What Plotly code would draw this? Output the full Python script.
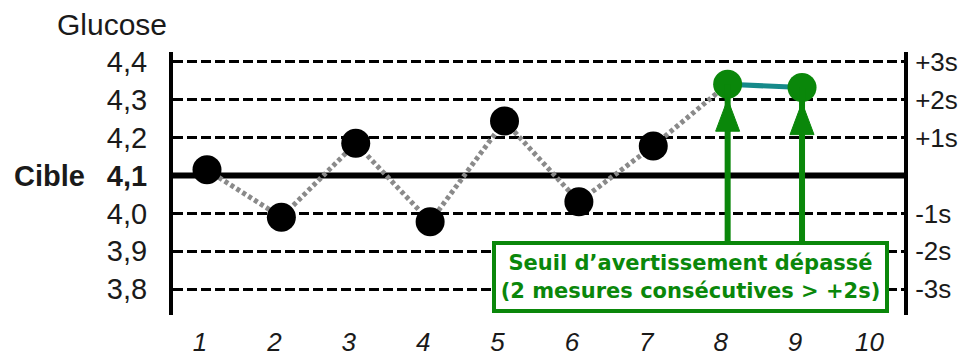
import plotly.graph_objects as go

# ---- data ----
runs = [1, 2, 3, 4, 5, 6, 7, 8, 9]
glucose = [4.115, 3.990, 4.185, 3.978, 4.244, 4.031, 4.178, 4.341, 4.332]
alert_runs = [8, 9]

x_ticks = [1, 2, 3, 4, 5, 6, 7, 8, 9, 10]
x_tick_labels = ["1", "2", "3", "4", "5", "6", "7", "8", "9", "10"]

target = 4.1
y_levels = [4.4, 4.3, 4.2, 4.1, 4.0, 3.9, 3.8]
y_level_labels = ["4,4", "4,3", "4,2", "<b>4,1</b>", "4,0", "3,9", "3,8"]
sd_levels = [4.4, 4.3, 4.2, 4.0, 3.9, 3.8]
sd_labels = ["+3s", "+2s", "+1s", "-1s", "-2s", "-3s"]

box_text = "Seuil d\u2019avertissement dépassé<br>(2 mesures consécutives > +2s)"

# ---- styling ----
GREEN = "#0a870a"
FONT = "Liberation Sans, Arial, sans-serif"
TXT = "#1a1a1a"
Y_RANGE = [3.732, 4.426]
X_RANGE = [0.543, 10.371]

n_ok = len(runs) - len(alert_runs)
alert_vals = [glucose[runs.index(r)] for r in alert_runs]

fig = go.Figure()

# grey dotted connecting line (up to first alert point)
fig.add_trace(go.Scatter(
    x=runs[:n_ok + 1], y=glucose[:n_ok + 1], mode="lines",
    line=dict(color="#8a8a8a", width=5, dash="4px,3px"),
    hoverinfo="skip", showlegend=False))
# teal link between alert points
fig.add_trace(go.Scatter(
    x=alert_runs, y=alert_vals, mode="lines",
    line=dict(color="#168a8a", width=5),
    hoverinfo="skip", showlegend=False))
# black points
fig.add_trace(go.Scatter(
    x=runs[:n_ok], y=glucose[:n_ok], mode="markers",
    marker=dict(color="black", size=29, line=dict(width=0)),
    showlegend=False))
# green alert points
fig.add_trace(go.Scatter(
    x=alert_runs, y=alert_vals, mode="markers",
    marker=dict(color=GREEN, size=29, line=dict(width=0)),
    showlegend=False))
# dummy trace for right axis
fig.add_trace(go.Scatter(x=[None], y=[None], yaxis="y2", showlegend=False))

shapes = [
    dict(type="line", xref="paper", x0=0, x1=1, yref="y", y0=target, y1=target,
         line=dict(color="black", width=6), layer="below"),
]
box_y = 3.833
shaft_bottom = 3.905
for r, v in zip(alert_runs, alert_vals):
    shapes.append(dict(type="line", xref="x", yref="y", x0=r, x1=r,
                       y0=shaft_bottom, y1=v,
                       line=dict(color=GREEN, width=6), layer="above"))
    shapes.append(dict(type="path", xref="x", yref="y",
                       xsizemode="pixel", ysizemode="pixel",
                       xanchor=r, yanchor=v,
                       path="M0,-15 L-12,-47 L12,-47 Z",
                       fillcolor=GREEN, line=dict(color=GREEN, width=1),
                       layer="above"))

annotations = [
    dict(text="Glucose", xref="paper", yref="paper", x=-0.161, y=1.104,
         xanchor="left", yanchor="middle", showarrow=False,
         font=dict(family=FONT, size=30, color=TXT)),
    dict(text="<b>Cible</b>", xref="paper", yref="y", x=-0.117, y=target,
         xanchor="right", yanchor="middle", showarrow=False,
         font=dict(family=FONT, size=29, color=TXT)),
    dict(text="<b>" + box_text + "</b>", xref="x", yref="y",
         x=(alert_runs[0] + alert_runs[1]) / 2 - 1, y=box_y,
         xanchor="center", yanchor="middle", showarrow=False,
         width=385, height=60, borderpad=2, borderwidth=4,
         bordercolor=GREEN, bgcolor="white", align="center",
         font=dict(family="DejaVu Sans, sans-serif", size=21, color=GREEN)),
]

# the page body has an 8px margin: the figure is sized/offset to fill the 967x361 window
fig.update_layout(
    width=959, height=353,
    margin=dict(l=165, r=63, t=44, b=46, autoexpand=False),
    paper_bgcolor="white", plot_bgcolor="white",
    showlegend=False,
    shapes=shapes, annotations=annotations,
    xaxis=dict(range=X_RANGE, tickvals=x_ticks, ticktext=x_tick_labels,
               tickfont=dict(family=FONT, size=26, color=TXT, style="italic"),
               showgrid=False, zeroline=False, showline=False, automargin=False,
               ticks="outside", ticklen=4, tickcolor="rgba(0,0,0,0)",
               ticklabelshift=-7),
    yaxis=dict(range=Y_RANGE, tickvals=y_levels, ticktext=y_level_labels,
               tickfont=dict(family=FONT, size=29, color=TXT),
               showgrid=True, gridcolor="black", gridwidth=3, griddash="10px,4px",
               zeroline=False, showline=True, linecolor="black", linewidth=4,
               automargin=False,
               ticks="outside", ticklen=16, tickcolor="rgba(0,0,0,0)"),
    yaxis2=dict(range=Y_RANGE, overlaying="y", side="right",
                tickvals=sd_levels, ticktext=sd_labels,
                tickfont=dict(family=FONT, size=26, color=TXT),
                showgrid=False, zeroline=False, showline=True,
                linecolor="black", linewidth=4, automargin=False,
                ticks="outside", ticklen=2, tickcolor="rgba(0,0,0,0)"),
)

fig.write_html("out.html")
